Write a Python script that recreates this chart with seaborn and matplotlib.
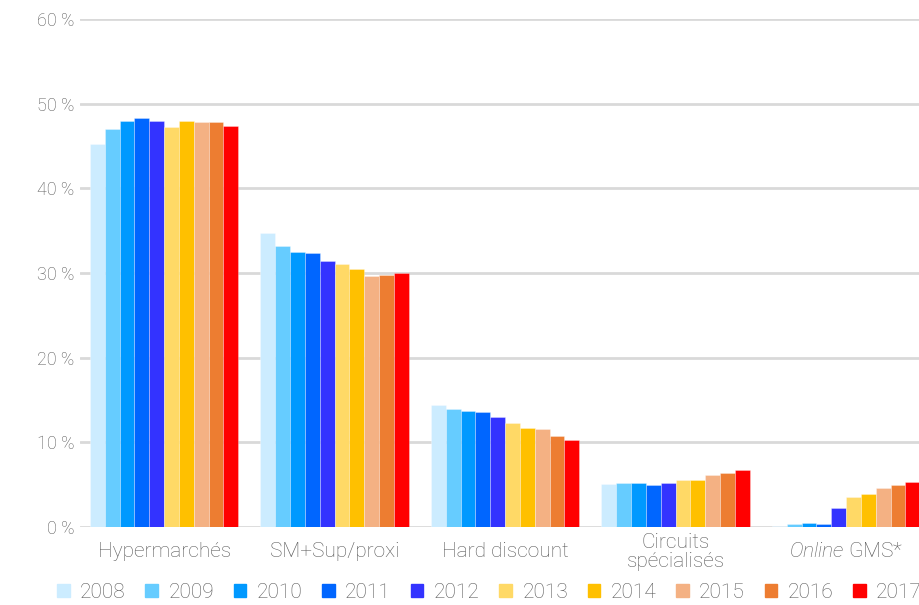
import matplotlib
matplotlib.use("Agg")
import matplotlib.pyplot as plt
import pandas as pd
import seaborn as sns

# Chart data
categories = ["Hypermarchés", "SM+Sup/proxi", "Hard discount",
              "Circuits\nspécialisés", "Online GMS*"]
years = ["2008", "2009", "2010", "2011", "2012",
         "2013", "2014", "2015", "2016", "2017"]
hyper = [45.2, 47.0, 47.9, 48.3, 48.0, 47.2, 47.9, 47.8, 47.8, 47.4]
sm_sup = [34.7, 33.2, 32.5, 32.4, 31.4, 31.1, 30.5, 29.6, 29.8, 30.0]
hard_disc = [14.4, 13.9, 13.7, 13.6, 13.0, 12.3, 11.7, 11.6, 10.7, 10.3]
circuits = [5.1, 5.2, 5.2, 5.0, 5.15, 5.55, 5.6, 6.1, 6.4, 6.7]
online = [0.15, 0.35, 0.5, 0.4, 2.2, 3.5, 3.9, 4.6, 4.95, 5.3]
y_ticks = [0, 10, 20, 30, 40, 50, 60]

colors = ["#CCECFF", "#66CCFF", "#0099FF", "#0066FF", "#3333FF",
          "#FFD966", "#FFC000", "#F4B183", "#ED7D31", "#FF0000"]

# Long table for seaborn
rows = []
for cat, vals in zip(categories, [hyper, sm_sup, hard_disc, circuits, online]):
    for yr, v in zip(years, vals):
        rows.append({"Circuit": cat, "Year": yr, "Share": v})
df = pd.DataFrame(rows)

sns.set_theme(style="white")
plt.rcParams["font.family"] = ["Roboto", "DejaVu Sans"]
plt.rcParams["font.weight"] = "light"
plt.rcParams["mathtext.fontset"] = "custom"
plt.rcParams["mathtext.it"] = "Roboto:italic:light"
plt.rcParams["mathtext.rm"] = "Roboto:light"
text_grey = "#595959"

fig = plt.figure(figsize=(9.2, 6.05), dpi=100)
ax = fig.add_axes([0.087, 0.129, 0.913, 0.8397])

sns.barplot(data=df, x="Circuit", y="Share", hue="Year", palette=colors,
            width=0.87, saturation=1, errorbar=None, ax=ax,
            linewidth=0.6, edgecolor=(1, 1, 1, 0.35))

ax.set_ylim(0, 60)
ax.set_xlim(-0.493, 4.434)
ax.set_yticks(y_ticks)
ax.set_yticklabels([f"{t} %" for t in y_ticks], fontsize=13, color=text_grey)
ax.yaxis.grid(True, color="#D9D9D9", linewidth=2)
ax.set_axisbelow(True)
for s in ax.spines.values():
    s.set_visible(False)
ax.tick_params(axis="both", length=0)
ax.tick_params(axis="y", pad=4)
ax.tick_params(axis="x", pad=18)

xlabels = categories[:4] + [r"$\it{Online}$ GMS*"]
ax.set_xticks(range(len(categories)))
ax.set_xticklabels(xlabels, fontsize=15, color=text_grey, linespacing=1.0)
for lab in ax.get_xticklabels():
    lab.set_verticalalignment("center")
ax.set_xlabel("")
ax.set_ylabel("")

ax.legend_.remove()
handles = [plt.Rectangle((0, 0), 1, 1, color=c) for c in colors]
fig.legend(handles, years, loc="center", bbox_to_anchor=(0.532, 0.021),
           ncol=10, frameon=False, fontsize=15, labelcolor=text_grey,
           handlelength=0.6, handleheight=0.6, handletextpad=0.5,
           columnspacing=0.95)

fig.savefig("out.png", dpi=100)
plt.close(fig)
